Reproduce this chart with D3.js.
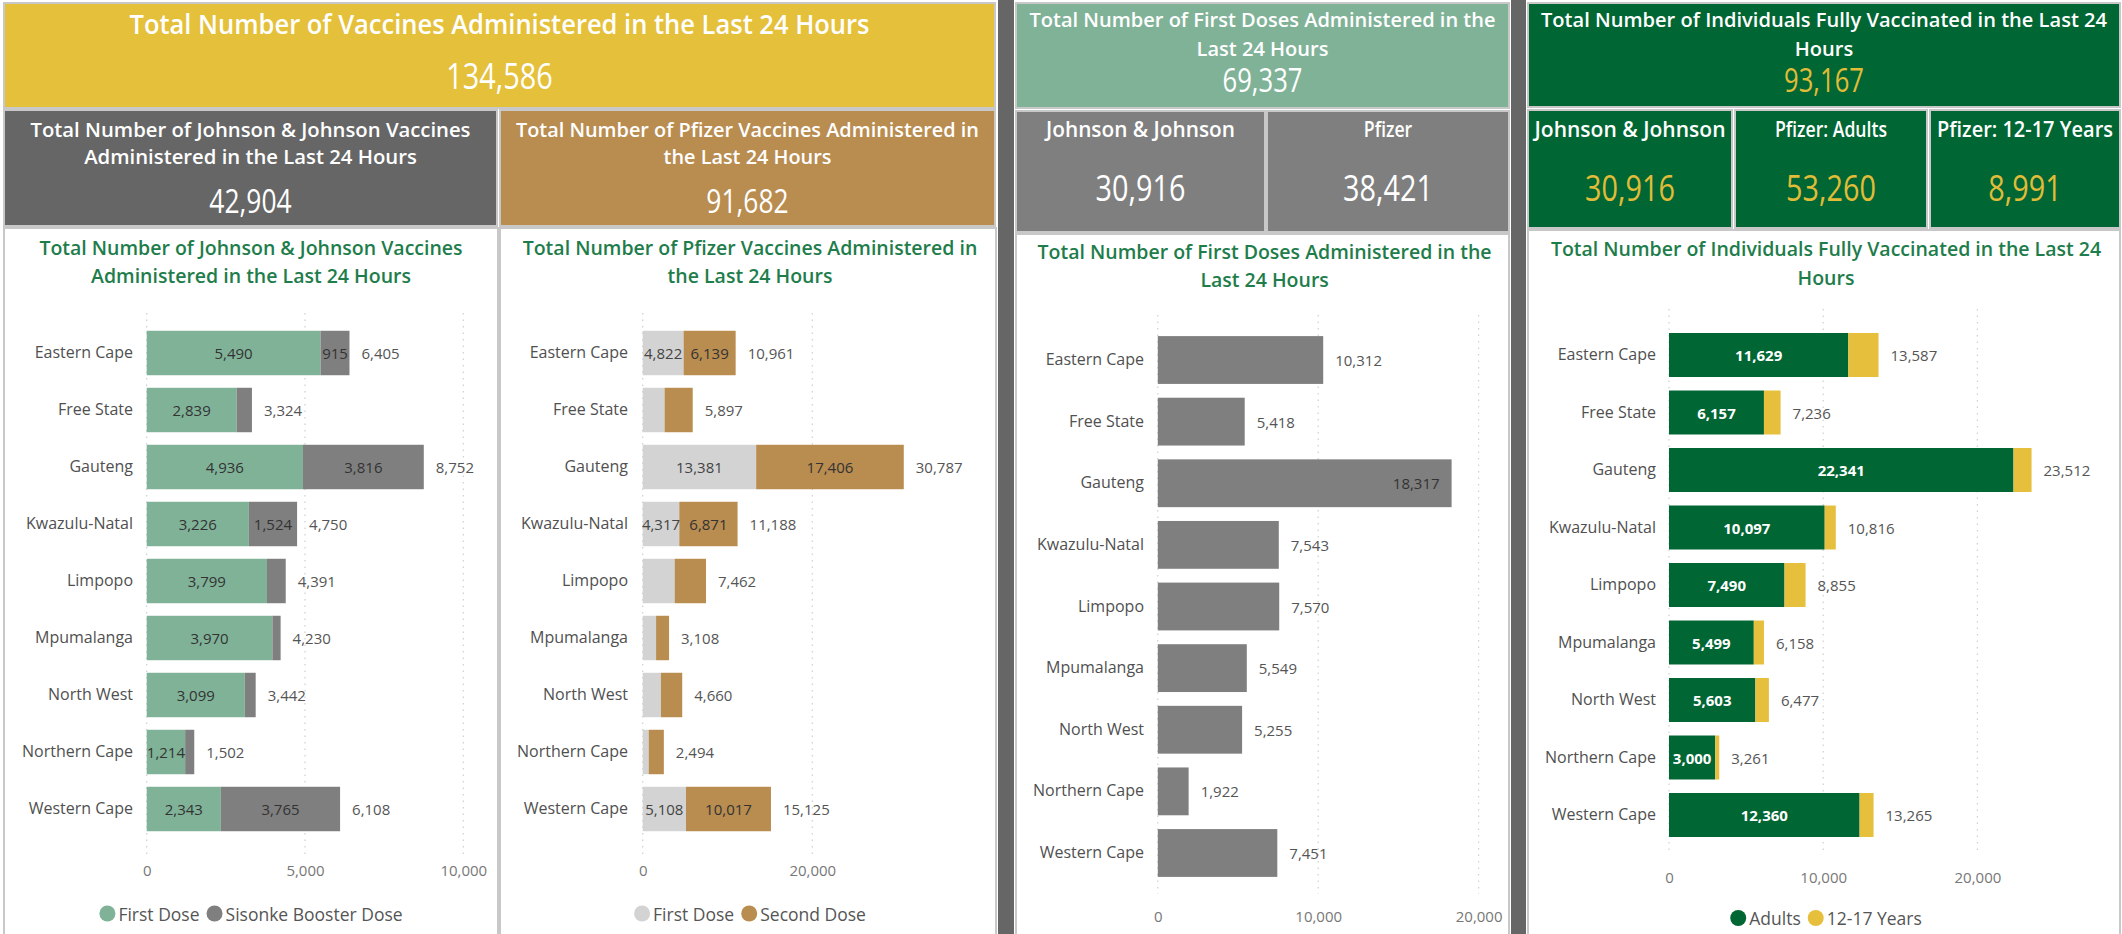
<!DOCTYPE html>
<html>
<head>
<meta charset="utf-8">
<script src="https://cdn.jsdelivr.net/npm/d3@7"></script>
<style>
  body { margin: 0; background: #fff; }
  text { font-family: "Open Sans", sans-serif; }
</style>
</head>
<body>
<script>

const W = 2122, H = 934;

// provinces, top to bottom
const provinces = ["Eastern Cape", "Free State", "Gauteng", "Kwazulu-Natal", "Limpopo",
                   "Mpumalanga", "North West", "Northern Cape", "Western Cape"];

// Johnson & Johnson
const jjFirst   = [5490, 2839, 4936, 3226, 3799, 3970, 3099, 1214, 2343];
const jjBooster = [915, 485, 3816, 1524, 592, 260, 343, 288, 3765];

// Pfizer
const pfFirst  = [4822, 2579, 13381, 4317, 3771, 1579, 2156, 708, 5108];
const pfSecond = [6139, 3318, 17406, 6871, 3691, 1529, 2504, 1786, 10017];

// first doses, all vaccines
const firstDoses = [10312, 5418, 18317, 7543, 7570, 5549, 5255, 1922, 7451];

// fully vaccinated
const fullAdults = [11629, 6157, 22341, 10097, 7490, 5499, 5603, 3000, 12360];
const fullTeens  = [1958, 1079, 1171, 719, 1365, 659, 874, 261, 905];

// headline cards
const totalAll = 134586, totalJJ = 42904, totalPfizer = 91682;
const firstTotal = 69337, firstJJ = 30916, firstPfizer = 38421;
const fullTotal = 93167, fullJJ = 30916, fullPfAdults = 53260, fullPfTeens = 8991;

const fmt = d3.format(",");
const GOLD = "#E1BC38";
const TITLE_GREEN = "#1E7D4B";

const svg = d3.select("body").append("svg")
    .attr("width", W)
    .attr("height", H);

svg.append("rect").attr("width", W).attr("height", H).attr("fill", "#fff");

// squeeze text horizontally (condensed look of the cards)
function squeeze(sel, k) {
    sel.each(function () {
        const w = this.getComputedTextLength();
        d3.select(this).attr("textLength", w * k).attr("lengthAdjust", "spacingAndGlyphs");
    });
}

// ---------- cards ----------
const cards = [
    { x: 4, y: 3, w: 991, h: 105, fill: "#E5C03B", title: ["Total Number of Vaccines Administered in the Last 24 Hours"],
      ty: [23], ts: 27, tw: 740, value: totalAll, vy: 75, vs: 36, vc: "#fff" },
    { x: 4, y: 110, w: 493, h: 116, fill: "#666666", title: ["Total Number of Johnson & Johnson Vaccines", "Administered in the Last 24 Hours"],
      ty: [128.5, 155.6], ts: 20.5, tw: 440, value: totalJJ, vy: 200, vs: 33, vc: "#fff" },
    { x: 500, y: 110, w: 495, h: 116, fill: "#B98C50", title: ["Total Number of Pfizer Vaccines Administered in", "the Last 24 Hours"],
      ty: [128.5, 155.6], ts: 20.5, tw: 463, value: totalPfizer, vy: 200, vs: 33, vc: "#fff" },
    { x: 1016, y: 3, w: 493, h: 105, fill: "#80B298", title: ["Total Number of First Doses Administered in the", "Last 24 Hours"],
      ty: [19, 48], ts: 20, tw: 466, value: firstTotal, vy: 79, vs: 32, vc: "#fff" },
    { x: 1016, y: 111, w: 249, h: 121, fill: "#7F7F7F", title: ["Johnson & Johnson"],
      ty: [128.6], ts: 21, tw: 189, value: firstJJ, vy: 187, vs: 36, vc: "#fff" },
    { x: 1267, y: 111, w: 242, h: 121, fill: "#7F7F7F", title: ["Pfizer"],
      ty: [128.6], ts: 21, value: firstPfizer, vy: 187, vs: 36, vc: "#fff" },
    { x: 1528, y: 3, w: 592, h: 104, fill: "#006633", title: ["Total Number of Individuals Fully Vaccinated in the Last 24", "Hours"],
      ty: [19, 48], ts: 20, tw: 566, value: fullTotal, vy: 79, vs: 32, vc: GOLD },
    { x: 1528, y: 110, w: 204, h: 118, fill: "#006633", title: ["Johnson & Johnson"],
      ty: [128.6], ts: 21, tw: 191, value: fullJJ, vy: 187, vs: 36, vc: GOLD },
    { x: 1735, y: 110, w: 192, h: 118, fill: "#006633", title: ["Pfizer: Adults"],
      ty: [128.6], ts: 21, value: fullPfAdults, vy: 187, vs: 36, vc: GOLD },
    { x: 1930, y: 110, w: 190, h: 118, fill: "#006633", title: ["Pfizer: 12-17 Years"],
      ty: [128.6], ts: 21, tw: 176, value: fullPfTeens, vy: 187, vs: 36, vc: GOLD }
];

// dark separators between the column groups
svg.append("rect").attr("x", 998).attr("y", 0).attr("width", 16).attr("height", H).attr("fill", "#666");
svg.append("rect").attr("x", 1511).attr("y", 0).attr("width", 15).attr("height", H).attr("fill", "#666");

cards.forEach(c => {
    svg.append("rect")
        .attr("x", c.x).attr("y", c.y).attr("width", c.w).attr("height", c.h)
        .attr("fill", c.fill).attr("stroke", "#c8c8c8").attr("stroke-width", 2);

    const cx = c.x + c.w / 2;
    const lines = svg.append("g").selectAll("text").data(c.title).join("text")
        .attr("x", cx).attr("y", (d, i) => c.ty[i])
        .attr("text-anchor", "middle").attr("dominant-baseline", "central")
        .attr("fill", "#fff").style("font-size", c.ts + "px").style("font-weight", 600)
        .text(d => d);
    let k = 0.84;
    if (c.tw) k = c.tw / lines.node().getComputedTextLength();
    squeeze(lines, k);

    const v = svg.append("text")
        .attr("x", cx).attr("y", c.vy)
        .attr("text-anchor", "middle").attr("dominant-baseline", "central")
        .attr("fill", c.vc).style("font-size", c.vs + "px")
        .text(fmt(c.value));
    squeeze(v, 0.8);
});

// ---------- chart panels ----------
const panels = [
    { x: 4, y: 228, w: 494, h: 720 },
    { x: 500, y: 228, w: 496, h: 720 },
    { x: 1016, y: 234, w: 493, h: 720 },
    { x: 1528, y: 230, w: 592, h: 720 }
];
svg.selectAll(".panel").data(panels).join("rect")
    .attr("class", "panel")
    .attr("x", d => d.x).attr("y", d => d.y).attr("width", d => d.w).attr("height", d => d.h)
    .attr("fill", "#fff").attr("stroke", "#c8c8c8").attr("stroke-width", 2);

function barChart(cfg) {
    const g = svg.append("g");

    // title
    g.selectAll(".ctitle").data(cfg.title).join("text")
        .attr("x", cfg.titleX).attr("y", (d, i) => cfg.titleY[i])
        .attr("text-anchor", "middle").attr("dominant-baseline", "central")
        .attr("fill", TITLE_GREEN).style("font-size", "19.5px").style("font-weight", 600)
        .text(d => d);

    const y = d3.scaleBand().domain(provinces).range(cfg.yRange)
        .paddingInner(cfg.pad).paddingOuter(cfg.pad / 2);
    const x = d3.scaleLinear().domain(cfg.domain).range(cfg.xRange);

    // dotted gridlines
    g.selectAll(".grid").data(cfg.ticks).join("line")
        .attr("x1", d => x(d)).attr("x2", d => x(d))
        .attr("y1", cfg.gridY[0]).attr("y2", cfg.gridY[1])
        .attr("stroke", "#cfcfcf").attr("stroke-width", 1.2).attr("stroke-dasharray", "1.5,5");

    // value axis
    const ax = g.append("g")
        .attr("transform", `translate(0,${cfg.axisY})`)
        .call(d3.axisBottom(x).tickValues(cfg.ticks).tickFormat(fmt).tickSize(0).tickPadding(0));
    ax.attr("font-size", null).attr("font-family", null);
    ax.select(".domain").remove();
    ax.selectAll("text").attr("y", 0).attr("dy", "0.35em")
        .attr("fill", "#777").style("font-size", "15px");

    // category axis
    const ay = g.append("g")
        .attr("transform", `translate(${cfg.labelX},0)`)
        .call(d3.axisLeft(y).tickSize(0).tickPadding(0));
    ay.attr("font-size", null).attr("font-family", null);
    ay.select(".domain").remove();
    ay.selectAll("text").attr("fill", "#505050").style("font-size", "16px");

    // stacked bars
    const keys = cfg.series.map(s => s.key);
    const rows = provinces.map((p, i) => {
        const o = { province: p };
        cfg.series.forEach(s => o[s.key] = s.values[i]);
        return o;
    });
    const stacked = d3.stack().keys(keys)(rows);

    const layers = g.selectAll(".layer").data(stacked).join("g")
        .attr("class", "layer")
        .attr("fill", (d, i) => cfg.series[i].color);

    layers.selectAll("rect").data(d => d).join("rect")
        .attr("x", d => x(d[0]))
        .attr("y", d => y(d.data.province))
        .attr("width", d => x(d[1]) - x(d[0]))
        .attr("height", y.bandwidth());

    // labels inside segments (only where they fit)
    if (cfg.inside) {
        stacked.forEach((layer, li) => {
            const s = cfg.series[li];
            layer.forEach(d => {
                const w = x(d[1]) - x(d[0]);
                const t = g.append("text")
                    .attr("x", (x(d[0]) + x(d[1])) / 2)
                    .attr("y", y(d.data.province) + y.bandwidth() / 2)
                    .attr("text-anchor", "middle").attr("dominant-baseline", "central")
                    .attr("fill", s.labelColor).style("font-size", "15px")
                    .style("font-weight", s.labelWeight || 400)
                    .text(fmt(d[1] - d[0]));
                if (t.node().getComputedTextLength() > w + 5) t.remove();
            });
        });
    }

    // totals at the end of each bar
    const last = stacked[stacked.length - 1];
    last.forEach(d => {
        const end = x(d[1]);
        const t = g.append("text")
            .attr("x", end + 12)
            .attr("y", y(d.data.province) + y.bandwidth() / 2)
            .attr("dominant-baseline", "central")
            .attr("fill", "#555").style("font-size", "15px")
            .text(fmt(d[1]));
        if (end + 12 + t.node().getComputedTextLength() > cfg.limit) {
            t.attr("x", end - 12).attr("text-anchor", "end").attr("fill", "#333");
        }
    });

    // legend, centred in the panel
    if (cfg.legend) {
        const lg = g.append("g");
        let cx = 0;
        cfg.series.forEach(s => {
            lg.append("circle").attr("cx", cx + 8).attr("cy", 0).attr("r", 8).attr("fill", s.color);
            const t = lg.append("text").attr("x", cx + 19).attr("y", 0)
                .attr("dominant-baseline", "central")
                .attr("fill", "#555").style("font-size", "17.5px")
                .text(s.name);
            cx += 19 + t.node().getComputedTextLength() + 7;
        });
        const total = cx - 7;
        lg.attr("transform", `translate(${cfg.titleX - total / 2},${cfg.legendY})`);
    }
}

barChart({
    title: ["Total Number of Johnson & Johnson Vaccines", "Administered in the Last 24 Hours"],
    titleX: 251, titleY: [247, 275.6],
    yRange: [324.5, 837.5], pad: 0.22,
    domain: [0, 10000], xRange: [146.7, 463.3], ticks: [0, 5000, 10000],
    gridY: [313, 855], axisY: 871, labelX: 133, limit: 495,
    series: [
        { key: "first", name: "First Dose", values: jjFirst, color: "#80B298", labelColor: "#333" },
        { key: "booster", name: "Sisonke Booster Dose", values: jjBooster, color: "#7F7F7F", labelColor: "#333" }
    ],
    inside: true, legend: true, legendY: 913.5
});

barChart({
    title: ["Total Number of Pfizer Vaccines Administered in", "the Last 24 Hours"],
    titleX: 750, titleY: [247, 275.6],
    yRange: [324.5, 837.5], pad: 0.22,
    domain: [0, 20000], xRange: [642.7, 812.3], ticks: [0, 20000],
    gridY: [313, 855], axisY: 871, labelX: 628, limit: 993,
    series: [
        { key: "first", name: "First Dose", values: pfFirst, color: "#D3D3D3", labelColor: "#444" },
        { key: "second", name: "Second Dose", values: pfSecond, color: "#B98C50", labelColor: "#333" }
    ],
    inside: true, legend: true, legendY: 913.5
});

barChart({
    title: ["Total Number of First Doses Administered in the", "Last 24 Hours"],
    titleX: 1264.6, titleY: [251, 279],
    yRange: [329.2, 883.8], pad: 0.224,
    domain: [0, 20000], xRange: [1157.8, 1478.6], ticks: [0, 10000, 20000],
    gridY: [315, 894], axisY: 917, labelX: 1144, limit: 1500,
    series: [
        { key: "first", name: "First Dose", values: firstDoses, color: "#7F7F7F", labelColor: "#333" }
    ],
    inside: false, legend: false
});

barChart({
    title: ["Total Number of Individuals Fully Vaccinated in the Last 24", "Hours"],
    titleX: 1826, titleY: [248, 277],
    yRange: [326.25, 843.75], pad: 0.235,
    domain: [0, 20000], xRange: [1669, 1977.4], ticks: [0, 10000, 20000],
    gridY: [309, 853], axisY: 878, labelX: 1656, limit: 2118,
    series: [
        { key: "adults", name: "Adults", values: fullAdults, color: "#006633", labelColor: "#fff", labelWeight: 700 },
        { key: "teens", name: "12-17 Years", values: fullTeens, color: "#E6BF3C", labelColor: "#333" }
    ],
    inside: true, legend: true, legendY: 918
});

</script>
</body>
</html>
